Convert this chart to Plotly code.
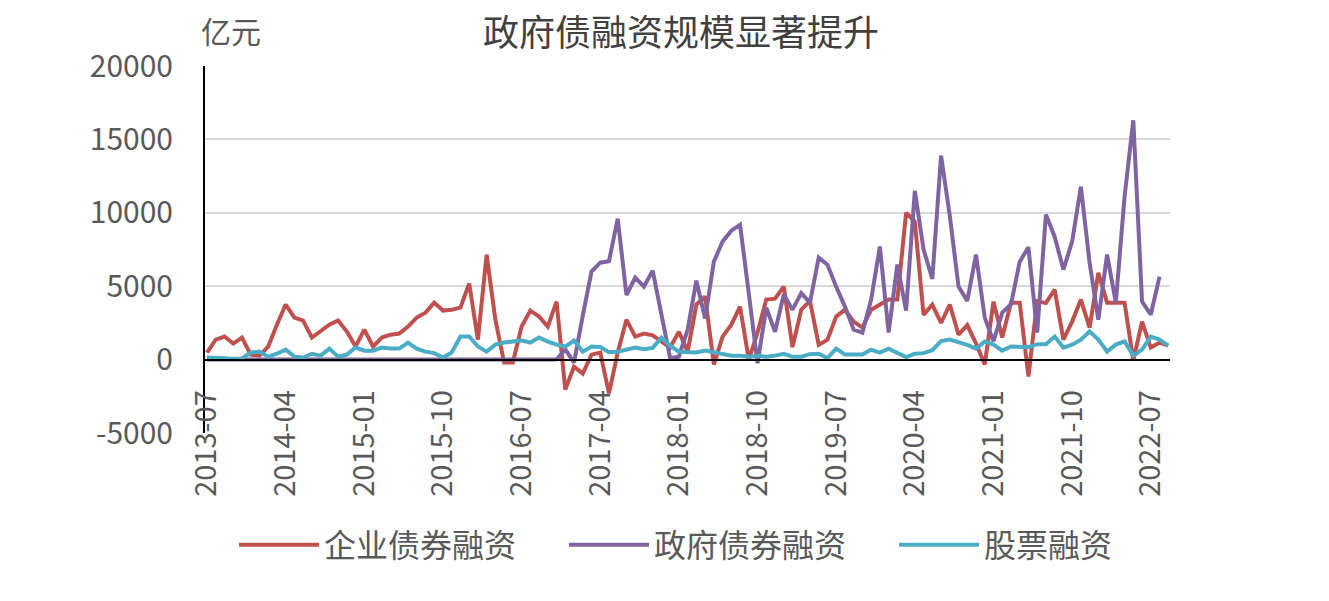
import plotly.graph_objects as go
import pandas as pd

# Monthly categories 2013-07 .. 2022-09
months = [d.strftime("%Y-%m") for d in pd.date_range("2013-07-01", "2022-09-01", freq="MS")]

corp_bond = [480, 1360, 1570, 1090, 1500, 340, 270, 890, 2380, 3750,
             2860, 2660, 1500, 1910, 2380, 2660, 1910, 890, 2040, 890,
             1500, 1700, 1770, 2250, 2860, 3200, 3880, 3340, 3400, 3540,
             5180, 1360, 7150, 2720, -200, -200, 2250, 3340, 2930, 2250,
             3950, -2040, -480, -950, 340, 480, -2300, 480, 2720, 1570,
             1770, 1650, 1200, 820, 1900, 550, 3750, 4300, -340, 1570,
             2380, 3600, 0, 1840, 4090, 4150, 4970, 850, 3400, 4000,
             1000, 1360, 2930, 3400, 2590, 2180, 3400, 3750, 4090, 4090,
             10000, 9400, 3050, 3750, 2500, 3750, 1700, 2350, 1100, -340,
             3950, 1500, 3880, 3880, -1160, 3980, 3850, 4770, 1360, 2590,
             4090, 2180, 5920, 3880, 3880, 3880, -70, 2590, 820, 1160,
             950]

gov_bond = [0] * 41 + [
             700, -200, 3000, 6000, 6600, 6700, 9600, 4400, 5580,
             4970, 6060, 3200, 100, 200, 2040, 5380, 2800, 6670, 8040,
             8780, 9190, 4500, -250, 3540, 1900, 4430, 3400, 4530, 3880,
             6950, 6470, 4970, 3610, 2040, 1840, 4090, 7700, 1840, 6470,
             3330, 11500, 7490, 5500, 13900, 9800, 4970, 4000, 7150, 2860,
             1250, 3200, 3750, 6670, 7650, 1840, 9880, 8370, 6130, 8040,
             11780, 6600, 2720, 7150, 3880, 11100, 16300, 3950, 3060, 5650]

equity = [140, 140, 100, 50, 80, 480, 540, 200, 400, 680,
          200, 140, 400, 270, 750, 200, 340, 820, 610, 610,
          820, 750, 750, 1160, 750, 540, 440, 140, 480, 1570,
          1570, 890, 540, 1020, 1160, 1230, 1300, 1160, 1500, 1230,
          1020, 890, 1300, 540, 890, 860, 510, 540, 650, 820,
          700, 800, 1500, 950, 540, 480, 480, 610, 480, 340,
          270, 270, 200, 270, 200, 270, 400, 200, 200, 370,
          400, 100, 750, 340, 340, 340, 680, 480, 750, 480,
          170, 400, 440, 640, 1260, 1360, 1200, 1000, 750, 1230,
          1020, 610, 890, 890, 850, 1050, 1050, 1570, 820, 1020,
          1360, 1910, 1360, 550, 1020, 1230, 270, 680, 1570, 1360,
          950]

series_names = ["企业债券融资", "政府债券融资", "股票融资"]
series_colors = ["#C0504D", "#8064A2", "#4BACC6"]
tick_months = months[::9]
y_ticks = [-5000, 0, 5000, 10000, 15000, 20000]
y_ticktext = ["-5000", "0", "5000", "10000", "15000", "20000"]

CJK = "Noto Sans CJK SC"
fig = go.Figure()
for name, vals, col in zip(series_names, [corp_bond, gov_bond, equity], series_colors):
    fig.add_trace(go.Scatter(x=months, y=vals, mode="lines", name=name,
                             line=dict(color=col, width=4)))

# page body has an 8px default margin; the figure is sized/offset to compensate
fig.update_layout(
    width=1313, height=585,
    margin=dict(l=197, r=151, t=58, b=160, autoexpand=False),
    plot_bgcolor="white", paper_bgcolor="white",
    font=dict(family=CJK, color="#595959"),
    title=dict(text="政府债融资规模显著提升", x=(681 - 8) / 1313, xanchor="center",
               y=1 - 25 / 585, yanchor="middle", yref="container",
               font=dict(size=36, color="#404040", family=CJK)),
    showlegend=True,
    legend=dict(orientation="h", x=-0.001, xanchor="left", y=-0.305, yanchor="middle",
                font=dict(size=32, color="#595959", family=CJK),
                itemwidth=80, entrywidth=235, entrywidthmode="pixels",
                borderwidth=30, bordercolor="rgba(0,0,0,0)",
                bgcolor="rgba(0,0,0,0)"),
    xaxis=dict(type="category", categoryorder="array", categoryarray=months,
               range=[-0.23, 110.2], tickmode="array", tickvals=tick_months,
               ticktext=tick_months, tickangle=-90, automargin=False,
               tickfont=dict(size=29, color="#595959", family=CJK),
               showgrid=False, showline=True, linecolor="black", linewidth=2,
               anchor="free", position=0.2, ticks="", ticklabelstandoff=18,
               zeroline=False),
    yaxis=dict(range=[-5000, 20000], tickmode="array", tickvals=y_ticks,
               ticktext=y_ticktext, automargin=False,
               showgrid=True, gridcolor="#D9D9D9", gridwidth=2,
               showline=True, linecolor="black", linewidth=2,
               zeroline=False, ticks="", ticklabelstandoff=24,
               tickfont=dict(size=30, color="#595959", family=CJK)),
    annotations=[dict(text="亿元", xref="paper", yref="paper", x=-0.006, y=1.098,
                      xanchor="left", yanchor="middle", showarrow=False,
                      font=dict(size=30, color="#595959", family=CJK))],
)

fig.write_html("out.html")
